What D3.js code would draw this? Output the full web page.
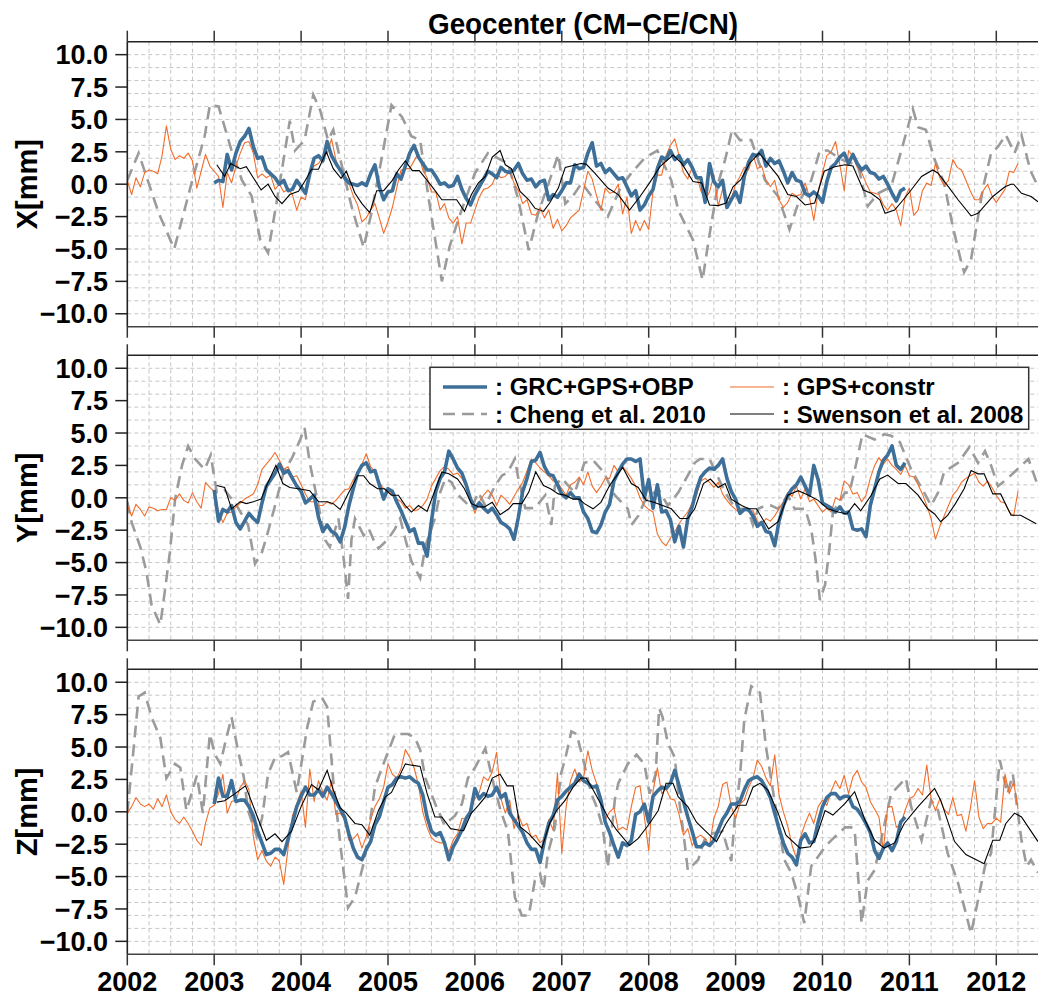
<!DOCTYPE html>
<html><head><meta charset="utf-8">
<script src="https://cdn.jsdelivr.net/npm/d3@7"></script>
<style>html,body{margin:0;padding:0;background:#fff;} svg{display:block;}</style>
</head><body><svg id="chart" width="1038" height="996"></svg>
<script>
// ---------------- DATA ----------------
const title = "Geocenter (CM\u2212CE/CN)";
const panelLabels = ["X[mm]", "Y[mm]", "Z[mm]"];
const yearTicks = [2002,2003,2004,2005,2006,2007,2008,2009,2010,2011,2012];
const valueTicks = [-10,-7.5,-5,-2.5,0,2.5,5,7.5,10];
const legendNames = [": GRC+GPS+OBP", ": GPS+constr", ": Cheng et al. 2010", ": Swenson et al. 2008"];

// GPS+constr : start 2002.00, step 0.05 yr
const gpsStart = 2002.0, gpsStep = 0.05;
const gpsX = [0.3,-0.8,0.5,-0.2,0.9,1.1,1.0,0.8,2.2,4.5,2.7,1.9,2.2,2.0,2.4,1.8,-0.3,1.0,2.3,1.4,
1.0,0.6,-1.8,0.9,0.1,1.4,2.4,3.2,3.3,2.4,0.5,0.8,0.5,0.7,-0.4,0.0,-0.6,-0.4,-0.8,-2.0,
-1.0,-1.2,0.8,1.4,1.6,2.1,2.4,3.5,1.9,1.0,0.8,0.1,-0.9,-1.6,-2.9,-2.6,-2.0,-1.5,-2.6,-3.8,
-2.9,-1.8,-0.3,1.1,1.2,1.2,1.8,2.4,1.1,0.5,-0.6,-0.6,-2.0,-1.5,-2.6,-3.0,-2.5,-4.6,-3.0,-3.0,
-2.0,-1.0,-0.4,-0.3,0.0,0.8,0.5,0.6,1.0,0.1,-0.5,-1.5,-1.2,-2.3,-2.4,-1.8,-2.6,-2.0,-3.4,-2.7,
-3.6,-3.2,-2.6,-2.3,-2.0,-0.5,
1.0,0.4,-0.9,-2.0,-0.3,-0.7,-0.6,0.0,-2.3,-1.0,-3.8,-2.8,-3.6,-2.8,-3.5,-0.5,0.7,0.7,2.2,3.0,
3.5,2.2,0.9,0.4,1.3,0.7,-0.5,-1.2,-0.6,0.7,-1.7,-0.4,-1.0,-1.2,0.0,0.6,1.3,1.1,2.3,1.2,
1.4,0.3,-0.2,0.3,-1.2,-1.8,-1.4,-0.7,-0.9,-0.8,0.1,-1.0,-2.8,-0.6,0.9,2.2,2.5,3.3,1.5,-0.5,
2.6,2.1,1.3,0.9,0.1,-0.6,-0.7,-0.8,-1.6,-2.0,-1.5,-2.0,-3.2,-1.0,-0.3,-2.4,-2.0,-0.5,0.1,-0.1,
1.6,0.5,-0.1,0.3,1.9,1.3,1.1,0.3,-0.5,-1.2,-1.2,-0.5,0.0,-0.9,-1.4,-0.9,-0.4,1.0,0.9,1.6];
const gpsY = [-0.6,-1.4,-0.5,-0.9,-1.4,-0.7,-0.8,-1.0,-0.9,-0.9,0.0,-0.2,0.3,-0.2,-0.4,0.4,-0.3,-0.8,1.2,0.8,
0.5,-1.1,-1.9,-1.2,-1.1,-0.7,-0.4,-0.1,0.1,0.3,1.0,2.2,2.6,3.0,3.5,2.9,2.2,2.4,1.6,1.7,
1.0,0.3,-0.3,-0.3,-0.6,-0.6,-0.3,-0.5,-0.2,0.2,0.6,0.7,1.4,2.0,2.6,3.4,2.4,2.0,1.2,0.7,
0.6,0.2,-0.1,-0.3,-0.8,-0.6,-1.0,-0.9,-0.6,-0.1,0.9,1.5,2.1,2.4,2.2,1.8,1.9,1.5,0.9,-0.1,
-1.2,-0.3,0.2,0.6,0.2,-0.6,0.2,-0.1,-0.5,0.1,0.7,1.2,2.1,3.0,2.7,2.3,2.0,1.7,1.3,1.2,
0.7,0.2,1.0,1.2,1.6,1.0,
2.0,0.9,0.4,0.9,1.5,1.5,2.5,2.0,2.4,2.0,1.5,0.9,0.0,-0.6,-0.9,-1.1,-2.8,-3.4,-3.7,-3.1,
-2.6,-2.0,-1.5,-1.1,-0.4,0.2,1.3,1.5,1.2,0.8,1.2,0.3,-0.2,-0.6,-0.9,-1.2,-0.8,-1.1,-1.0,-1.8,
-2.1,-1.6,-1.8,-1.4,-0.8,-0.3,0.4,0.1,0.9,-0.1,0.7,-0.3,-0.1,-0.6,-1.1,-0.8,-1.1,0.0,-0.2,1.3,
1.0,0.3,0.4,-0.3,0.2,1.5,2.5,3.1,2.6,3.0,2.5,2.2,1.8,2.5,1.7,1.6,1.0,0.3,-0.6,-1.6,
-3.2,-2.2,-1.4,-0.6,0.2,0.6,1.2,1.5,1.7,1.9,1.2,0.9,1.3,0.8,0.2,-0.3,-0.4,-1.1,-1.4,0.5];
const gpsZ = [-0.1,0.4,1.1,0.6,0.4,0.6,0.2,1.0,0.4,1.3,0.0,-0.6,-0.9,-0.4,-0.9,-1.5,-2.2,-2.6,-0.9,0.3,
0.5,1.4,2.9,-0.1,0.8,0.9,1.9,2.4,1.7,-1.9,-3.7,-3.0,-3.8,-4.2,-3.5,-3.8,-5.6,-2.8,-0.3,0.6,
1.6,-1.2,3.3,0.8,2.4,1.5,0.9,2.4,-0.2,-0.1,-0.6,-2.2,-2.1,-1.7,-2.8,-1.9,-0.6,0.4,1.0,1.9,
3.7,2.9,2.6,3.3,4.8,4.2,3.4,2.1,0.0,-1.2,-2.0,-2.3,-2.4,-2.4,-3.1,-2.2,-1.7,-0.5,-0.6,0.3,
1.0,1.5,2.7,2.4,3.1,4.6,1.0,-0.1,0.9,-1.3,-0.2,-1.1,-0.9,-2.0,-1.8,-2.4,-2.1,-0.6,-1.4,3.0,
-3.2,0.4,2.4,3.3,2.3,2.6,
4.7,3.2,2.2,0.9,-0.6,0.0,0.3,-1.4,-1.2,-1.4,0.4,1.9,2.0,-0.4,-3.0,1.6,3.4,1.4,1.8,1.0,
0.9,-0.2,-1.8,-1.3,-2.6,-2.0,-1.8,-2.1,-2.6,-0.5,0.4,2.1,2.3,0.4,-0.5,0.6,0.9,1.9,2.6,4.0,
3.5,2.6,2.0,4.4,1.3,0.0,-1.1,-2.6,-3.6,-1.9,-0.9,-0.1,-0.9,0.4,0.9,0.5,1.6,2.4,1.8,2.8,
1.4,2.7,3.2,2.3,1.9,0.8,0.2,-0.4,-3.0,0.4,0.4,-1.2,-1.0,0.1,1.0,1.2,1.8,1.3,3.6,1.0,
0.1,1.0,0.2,-0.2,1.1,-0.3,-0.2,-1.5,0.2,2.4,-0.4,-1.3,-0.9,-0.9,-0.5,-0.8,2.9,1.4,2.3,0.2];

// GRC+GPS+OBP : start 2003.00, step 0.05 yr
const grcStart = 2003.0, grcStep = 0.05;
const grcX = [0.1,0.3,0.2,2.3,1.1,2.4,3.3,3.7,4.3,2.9,2.0,2.1,1.1,0.8,0.5,0.0,0.3,-0.5,-0.4,0.3,
-0.2,-0.7,0.8,2.0,2.2,1.8,3.3,2.2,1.6,1.1,0.5,0.1,0.0,-0.1,0.1,-0.1,0.8,1.5,-0.2,-1.2,
-0.6,-0.5,0.8,0.4,1.4,2.4,3.0,2.1,1.6,1.1,1.1,0.6,0.0,0.1,-0.2,-0.1,0.6,-0.4,-1.1,-1.6,
-0.8,-0.2,0.4,1.0,0.8,0.5,1.3,1.0,0.9,1.1,1.6,0.8,0.3,0.4,-0.2,0.2,0.3,-1.2,-0.8,-1.0,
-0.5,0.1,0.1,1.5,1.2,1.3,2.4,3.2,1.4,1.6,
0.9,1.2,0.8,0.4,0.5,-0.2,-0.9,-0.5,-2.0,-1.6,-0.9,-0.4,1.2,2.1,1.9,2.6,1.9,2.2,1.5,1.9,
1.3,0.5,0.5,-1.4,1.6,0.2,-0.2,0.3,-1.8,-1.2,-0.6,-1.4,0.6,1.7,2.3,2.2,2.6,1.4,2.0,1.6,
1.8,1.0,0.1,0.9,0.3,0.2,-0.7,-0.9,-0.6,-0.9,-1.4,0.2,1.3,1.6,2.1,2.4,1.6,2.3,1.6,1.1,
1.4,0.9,0.8,0.4,0.6,0.0,-0.7,-1.3,-0.5,-0.3];
const grcY = [0.6,-1.8,-0.9,-1.1,-0.6,-1.9,-2.4,-1.8,-1.2,-1.6,-1.9,-0.4,0.9,1.4,1.9,2.6,1.9,2.1,1.5,0.9,
0.5,-0.4,-0.1,0.2,-1.5,-2.6,-2.1,-2.6,-2.8,-3.4,-2.3,-0.6,0.7,1.9,2.5,2.7,2.0,2.1,1.0,-0.1,
0.7,0.5,-0.3,-1.0,-1.8,-2.6,-2.4,-3.5,-3.5,-4.5,-1.8,0.5,1.5,2.0,3.6,3.0,2.3,1.9,1.0,-0.1,
-0.8,-0.4,-0.8,-1.1,-0.8,-1.3,-1.9,-2.1,-2.4,-3.2,-1.5,0.5,1.5,2.8,2.9,3.5,2.4,1.8,1.7,1.0,
0.3,0.0,0.4,0.0,0.0,-1.1,-1.6,-2.6,-2.7,-2.1,
-1.1,-0.5,1.3,2.0,2.6,3.0,3.0,2.8,3.0,0.0,1.4,-0.8,1.0,-1.1,-1.0,-1.7,-3.4,-2.2,-3.8,-1.6,
-0.7,0.6,1.6,2.0,2.3,2.2,2.5,3.0,1.5,0.5,-0.1,-1.2,-0.9,-0.9,-1.4,-2.2,-1.9,-2.6,-2.7,-3.7,
-1.8,-0.6,0.2,0.7,1.0,1.6,0.9,0.2,2.5,1.4,-0.4,-0.6,-0.8,-1.1,-0.7,-1.2,-1.1,-2.4,-2.5,-2.4,
-3.0,-0.6,0.7,2.0,2.9,3.3,4.0,2.5,2.2,2.7];
const grcZ = [0.6,2.6,1.2,1.2,2.4,0.8,0.9,0.9,0.4,-0.3,-1.5,-2.4,-3.3,-3.2,-2.9,-2.9,-3.3,-2.1,-0.9,0.4,
1.2,1.9,1.3,1.3,1.7,1.2,1.9,1.4,0.8,0.2,-0.4,-1.7,-2.8,-3.5,-3.7,-2.9,-2.3,-1.0,-0.4,0.8,
1.9,2.1,2.6,2.7,2.6,2.7,2.4,2.2,1.3,-0.4,-1.5,-1.8,-1.6,-2.4,-3.7,-2.7,-2.1,-1.4,-0.5,0.0,
1.8,1.0,1.4,1.2,1.3,1.9,1.1,1.4,-0.1,-0.6,-1.1,-1.6,-2.4,-2.9,-2.9,-3.9,-2.2,-0.9,-0.3,0.9,
1.2,1.6,1.9,2.2,2.9,2.4,2.2,1.9,2.0,0.9,
-0.8,-1.6,-2.6,-3.5,-2.4,-2.6,-2.2,-0.2,0.0,0.6,-0.8,1.2,1.6,1.9,1.8,2.2,3.2,2.0,0.8,-0.4,
-1.5,-2.7,-2.7,-2.4,-2.6,-2.2,-1.4,-0.6,-0.1,0.6,0.6,0.8,1.7,2.4,2.6,2.7,2.4,1.8,1.1,-0.1,
-1.3,-2.4,-3.2,-3.5,-4.1,-2.2,-1.7,-2.4,-2.3,-0.8,0.4,1.1,1.4,1.4,1.0,1.2,1.2,0.4,0.2,-0.3,
-0.9,-1.6,-3.0,-3.6,-2.8,-2.4,-3.0,-2.3,-0.8,-0.4];

// Cheng et al. 2010 : [decimal year, mm]
const chengX = [[2002.00,0.3],[2002.13,2.4],[2002.36,-2.2],[2002.54,-5.0],[2002.74,0.1],[2002.89,3.7],[2002.95,6.1],[2003.05,6.0],[2003.20,2.6],[2003.32,0.3],[2003.43,-0.9],[2003.53,-4.3],[2003.62,-5.3],[2003.76,0.3],[2003.87,4.9],[2003.93,2.6],[2004.04,3.4],[2004.14,6.9],[2004.22,5.7],[2004.31,3.4],[2004.37,4.2],[2004.47,1.4],[2004.58,-1.7],[2004.72,-4.9],[2004.81,-2.2],[2004.93,2.1],[2005.04,6.1],[2005.16,5.2],[2005.27,3.7],[2005.37,3.4],[2005.47,-1.2],[2005.62,-7.5],[2005.71,-4.8],[2005.81,-2.7],[2006.00,0.85],[2006.15,2.4],[2006.38,1.6],[2006.50,-1.2],[2006.62,-5.1],[2006.73,-2.2],[2006.85,0.1],[2006.96,2.3],[2007.04,-1.5],[2007.13,-0.9],[2007.23,0.1],[2007.34,-0.9],[2007.53,-2.5],[2007.68,-0.2],[2007.80,0.85],[2007.95,2.0],[2008.10,2.6],[2008.26,0.3],[2008.34,-2.0],[2008.51,-4.3],[2008.62,-7.4],[2008.69,-4.3],[2008.80,0.1],[2008.88,1.9],[2008.96,4.2],[2009.05,3.4],[2009.18,3.4],[2009.34,0.3],[2009.49,-0.95],[2009.62,-3.5],[2009.72,-1.5],[2009.87,0.3],[2009.97,2.6],[2010.06,2.6],[2010.22,1.9],[2010.41,1.4],[2010.52,-1.7],[2010.64,-0.7],[2010.79,-0.2],[2010.94,3.4],[2011.04,5.8],[2011.10,4.4],[2011.19,4.2],[2011.29,1.9],[2011.40,0.1],[2011.50,-3.3],[2011.60,-6.1],[2011.63,-6.8],[2011.71,-5.8],[2011.77,-3.3],[2011.85,-0.2],[2011.94,2.4],[2012.02,2.9],[2012.11,3.8],[2012.21,2.4],[2012.29,3.8],[2012.39,1.1],[2012.48,-0.2]];
const chengY = [[2002.00,-0.3],[2002.05,-1.9],[2002.15,-3.8],[2002.22,-5.7],[2002.28,-8.3],[2002.38,-9.8],[2002.43,-7.3],[2002.49,-4.2],[2002.55,-0.1],[2002.63,2.5],[2002.70,4.0],[2002.78,3.0],[2002.89,2.2],[2002.96,3.3],[2003.03,0.4],[2003.12,0.6],[2003.25,-0.5],[2003.39,-2.1],[2003.47,-5.1],[2003.55,-4.2],[2003.62,-2.6],[2003.70,-0.6],[2003.80,2.0],[2003.89,3.0],[2003.99,4.5],[2004.04,5.4],[2004.10,2.7],[2004.20,-0.6],[2004.28,-3.3],[2004.33,-3.8],[2004.43,-1.6],[2004.49,-4.7],[2004.54,-7.8],[2004.58,-3.2],[2004.62,-1.6],[2004.72,-2.9],[2004.78,-2.4],[2004.83,-3.2],[2004.89,-3.9],[2005.00,-3.2],[2005.08,-2.4],[2005.14,-1.6],[2005.20,-3.2],[2005.27,-4.9],[2005.37,-6.2],[2005.43,-3.7],[2005.54,-1.6],[2005.60,0.4],[2005.66,1.5],[2005.73,1.2],[2005.81,0.2],[2005.96,-0.8],[2006.04,0.4],[2006.12,-0.6],[2006.23,0.9],[2006.31,1.7],[2006.38,2.0],[2006.46,3.0],[2006.50,1.5],[2006.58,-0.8],[2006.69,-0.8],[2006.81,0.2],[2006.88,-2.1],[2006.92,0.9],[2007.00,1.5],[2007.08,0.9],[2007.15,0.4],[2007.26,2.7],[2007.36,2.9],[2007.48,2.0],[2007.61,0.2],[2007.76,-0.85],[2007.80,-2.1],[2007.88,-1.4],[2007.95,-0.3],[2008.11,0.7],[2008.22,-0.6],[2008.34,0.4],[2008.53,2.7],[2008.59,3.0],[2008.70,3.0],[2008.88,0.4],[2009.00,-0.85],[2009.14,-0.85],[2009.20,-2.1],[2009.26,-0.85],[2009.34,-0.6],[2009.41,-0.6],[2009.49,-0.85],[2009.60,0.2],[2009.68,-0.85],[2009.80,-0.85],[2009.87,-2.4],[2009.93,-5.2],[2009.97,-7.9],[2010.03,-6.7],[2010.08,-3.9],[2010.12,-1.1],[2010.26,0.4],[2010.31,0.4],[2010.39,2.7],[2010.46,4.9],[2010.60,4.5],[2010.71,4.9],[2010.79,4.8],[2010.89,4.3],[2011.02,2.2],[2011.17,0.4],[2011.25,-0.6],[2011.33,0.4],[2011.40,2.0],[2011.56,2.7],[2011.69,3.9],[2011.79,2.7],[2011.87,3.6],[2011.94,2.5],[2012.02,0.9],[2012.13,1.5],[2012.29,2.5],[2012.37,3.0],[2012.48,0.9]];
const chengZ = [[2002.00,-0.1],[2002.07,4.7],[2002.13,8.9],[2002.20,9.2],[2002.28,7.3],[2002.38,5.7],[2002.45,2.6],[2002.55,3.7],[2002.61,3.4],[2002.68,0.1],[2002.74,1.4],[2002.80,2.8],[2002.87,-0.1],[2002.95,6.0],[2003.01,4.4],[2003.07,3.7],[2003.14,5.7],[2003.20,7.3],[2003.26,5.2],[2003.34,2.7],[2003.39,0.1],[2003.49,-1.9],[2003.55,-0.5],[2003.62,2.9],[2003.70,4.2],[2003.78,4.3],[2003.85,4.6],[2003.95,1.5],[2004.07,6.5],[2004.14,8.5],[2004.24,8.8],[2004.30,8.1],[2004.37,2.4],[2004.46,-3.0],[2004.54,-7.4],[2004.62,-6.6],[2004.73,-3.7],[2004.85,1.9],[2004.93,3.4],[2005.08,6.0],[2005.23,6.0],[2005.31,5.7],[2005.37,4.8],[2005.43,2.6],[2005.55,0.5],[2005.65,-1.0],[2005.77,-0.3],[2005.85,0.6],[2005.92,2.6],[2006.00,3.4],[2006.12,4.9],[2006.22,2.0],[2006.30,0.0],[2006.38,-1.5],[2006.46,-6.6],[2006.54,-8.0],[2006.62,-8.0],[2006.69,-5.3],[2006.75,-4.8],[2006.79,-6.0],[2006.84,-3.2],[2006.92,-1.2],[2006.99,2.9],[2007.05,4.4],[2007.11,6.2],[2007.17,6.0],[2007.24,4.2],[2007.34,1.4],[2007.40,0.4],[2007.47,-1.2],[2007.53,-4.3],[2007.61,0.9],[2007.65,2.2],[2007.76,3.7],[2007.86,4.4],[2007.95,3.7],[2008.01,1.4],[2008.08,2.9],[2008.12,8.0],[2008.16,7.3],[2008.22,5.3],[2008.30,4.2],[2008.35,0.9],[2008.41,-2.2],[2008.45,-4.5],[2008.57,-3.7],[2008.64,-2.2],[2008.72,-1.7],[2008.85,-1.5],[2008.95,-3.8],[2008.99,-0.6],[2009.05,2.7],[2009.10,7.1],[2009.18,9.7],[2009.28,9.2],[2009.35,5.0],[2009.49,-0.9],[2009.56,-3.7],[2009.64,-4.7],[2009.72,-6.5],[2009.79,-8.6],[2009.87,-4.2],[2010.03,-2.7],[2010.10,-2.2],[2010.26,-1.2],[2010.33,-1.2],[2010.37,-1.4],[2010.45,-8.6],[2010.52,-5.3],[2010.60,-4.5],[2010.79,1.4],[2010.96,2.6],[2011.02,0.4],[2011.14,-2.2],[2011.25,0.9],[2011.33,0.1],[2011.44,-3.2],[2011.56,-5.5],[2011.71,-9.4],[2011.87,-4.2],[2011.94,-3.2],[2012.04,4.0],[2012.13,1.4],[2012.19,2.9],[2012.29,-2.2],[2012.35,-4.2],[2012.40,-3.7],[2012.48,-4.7]];

// Swenson et al. 2008 : [decimal year, mm]
const swensonX = [[2003.03,1.5],[2003.12,0.6],[2003.19,1.6],[2003.30,1.2],[2003.37,1.35],[2003.45,0.5],[2003.54,-0.45],[2003.62,0.0],[2003.70,-0.95],[2003.78,-1.5],[2003.87,-0.8],[2003.97,-0.55],[2004.05,0.3],[2004.12,1.15],[2004.20,1.15],[2004.29,2.5],[2004.37,1.2],[2004.46,0.45],[2004.52,1.0],[2004.62,-0.7],[2004.70,-1.5],[2004.79,-2.2],[2004.87,-0.5],[2004.95,-0.5],[2005.05,0.3],[2005.12,1.1],[2005.20,1.8],[2005.28,1.05],[2005.36,1.05],[2005.45,0.3],[2005.52,-0.3],[2005.62,-1.2],[2005.72,-1.2],[2005.79,-1.2],[2005.88,-2.1],[2005.96,-0.8],[2006.04,0.1],[2006.12,0.6],[2006.20,2.1],[2006.29,2.6],[2006.35,1.5],[2006.42,1.2],[2006.52,-0.55],[2006.62,-1.2],[2006.69,-1.85],[2006.79,-2.1],[2006.86,-1.45],[2006.96,-0.3],[2007.04,1.3],[2007.13,1.45],[2007.22,1.6],[2007.28,1.55],[2007.38,0.85],[2007.53,-0.3],[2007.65,-0.8],[2007.78,-2.0],[2007.90,-0.95],[2008.01,0.1],[2008.13,1.35],[2008.28,2.25],[2008.38,1.6],[2008.51,0.2],[2008.61,0.1],[2008.70,-1.6],[2008.80,-1.65],[2008.89,-1.45],[2008.97,-0.2],[2009.06,0.35],[2009.16,1.6],[2009.27,2.4],[2009.37,1.6],[2009.49,0.6],[2009.60,-0.8],[2009.70,-0.95],[2009.80,-1.6],[2009.91,-1.45],[2010.02,1.0],[2010.14,1.35],[2010.26,1.5],[2010.35,1.4],[2010.47,-0.45],[2010.56,-0.7],[2010.66,-1.2],[2010.72,-2.25],[2010.83,-2.0],[2010.93,-1.2],[2011.02,-0.45],[2011.14,0.6],[2011.27,1.1],[2011.33,0.85],[2011.45,-0.2],[2011.56,-1.2],[2011.71,-2.45],[2011.79,-2.25],[2011.96,-0.95],[2012.10,-0.2],[2012.17,0.0],[2012.20,0.0],[2012.29,-0.7],[2012.40,-0.95],[2012.48,-1.35]];
const swensonY = [[2003.03,0.95],[2003.12,0.8],[2003.20,-0.85],[2003.30,-0.3],[2003.37,-0.45],[2003.45,-0.3],[2003.54,-0.1],[2003.62,1.2],[2003.71,2.5],[2003.79,1.1],[2003.87,0.8],[2003.97,0.7],[2004.10,0.55],[2004.20,-0.3],[2004.30,-0.3],[2004.37,-0.45],[2004.45,-0.9],[2004.54,0.3],[2004.65,1.7],[2004.72,1.7],[2004.79,1.1],[2004.88,0.7],[2004.96,0.7],[2005.04,0.2],[2005.12,0.2],[2005.20,-0.6],[2005.27,-1.1],[2005.35,-0.6],[2005.45,-1.05],[2005.52,0.2],[2005.62,2.0],[2005.70,1.85],[2005.80,1.45],[2005.88,0.7],[2005.96,-0.45],[2006.04,-0.7],[2006.11,-0.7],[2006.20,-0.35],[2006.29,-1.3],[2006.39,-0.85],[2006.44,-0.45],[2006.54,-0.45],[2006.62,0.45],[2006.70,2.0],[2006.79,0.95],[2006.87,0.7],[2006.96,0.3],[2007.04,0.2],[2007.13,-0.1],[2007.20,-0.1],[2007.26,-0.45],[2007.36,-0.85],[2007.45,-0.35],[2007.55,0.95],[2007.70,2.35],[2007.80,1.1],[2007.88,0.8],[2007.97,-0.2],[2008.06,-0.35],[2008.16,-0.6],[2008.26,-0.85],[2008.36,-1.6],[2008.45,-1.6],[2008.53,-0.85],[2008.63,1.1],[2008.71,1.45],[2008.80,0.8],[2008.88,1.1],[2008.95,-0.1],[2009.07,-0.6],[2009.15,-0.85],[2009.24,-0.85],[2009.38,-2.4],[2009.49,-1.85],[2009.60,0.2],[2009.72,0.55],[2009.84,0.2],[2009.95,-0.2],[2010.06,-0.85],[2010.18,-1.1],[2010.28,-1.25],[2010.37,-0.45],[2010.44,-1.0],[2010.56,0.2],[2010.66,1.45],[2010.75,1.75],[2010.87,1.1],[2010.96,1.1],[2011.10,0.2],[2011.21,-0.85],[2011.29,-1.25],[2011.36,-1.85],[2011.44,-1.35],[2011.53,-0.45],[2011.63,0.7],[2011.71,2.1],[2011.79,1.85],[2011.86,1.85],[2011.96,0.3],[2012.05,0.3],[2012.17,-1.35],[2012.28,-1.35],[2012.46,-2.0]];
const swensonZ = [[2003.03,0.75],[2003.12,0.85],[2003.24,1.4],[2003.36,2.0],[2003.60,-2.2],[2003.70,-1.7],[2003.78,-2.3],[2003.89,-1.5],[2004.00,0.4],[2004.12,2.1],[2004.20,1.7],[2004.30,3.2],[2004.37,1.7],[2004.45,0.3],[2004.52,-0.1],[2004.62,-0.9],[2004.70,-1.0],[2004.79,-1.8],[2004.89,0.1],[2004.97,1.15],[2005.04,1.5],[2005.20,3.7],[2005.27,3.6],[2005.37,3.5],[2005.45,1.4],[2005.54,-0.4],[2005.62,-0.4],[2005.72,-1.3],[2005.81,-1.4],[2005.87,-1.45],[2005.96,-0.1],[2006.04,0.5],[2006.12,1.15],[2006.20,2.6],[2006.29,2.9],[2006.37,2.0],[2006.44,2.0],[2006.52,-1.15],[2006.62,-1.7],[2006.69,-2.2],[2006.77,-2.8],[2006.86,-0.9],[2006.94,0.1],[2007.04,0.9],[2007.13,1.9],[2007.22,2.6],[2007.28,2.6],[2007.36,1.7],[2007.45,0.6],[2007.53,-0.4],[2007.63,-1.4],[2007.78,-2.6],[2007.88,-2.05],[2008.01,-0.9],[2008.11,0.1],[2008.20,2.2],[2008.28,2.2],[2008.34,1.15],[2008.45,0.4],[2008.55,-0.8],[2008.64,-1.4],[2008.78,-2.3],[2008.89,-0.9],[2009.03,0.5],[2009.12,0.5],[2009.20,1.9],[2009.28,2.2],[2009.37,1.7],[2009.49,-0.1],[2009.58,-1.8],[2009.74,-2.8],[2009.86,-2.7],[2009.93,-1.9],[2010.03,0.1],[2010.12,-0.25],[2010.26,0.65],[2010.37,1.55],[2010.49,-0.65],[2010.60,-2.2],[2010.71,-2.8],[2010.83,-2.4],[2010.94,-0.9],[2011.10,0.4],[2011.29,1.8],[2011.36,0.9],[2011.52,-2.3],[2011.65,-3.3],[2011.86,-4.0],[2011.96,-2.2],[2012.04,-2.2],[2012.11,-0.9],[2012.21,-0.1],[2012.29,-0.4],[2012.48,-2.3]];

// ---------------- CHART ----------------
const COL = {grc:"#3d6f98", gps:"#f26d2b", cheng:"#9b9b9b", swenson:"#000000"};
const FONT = "'Liberation Sans', Arial, Helvetica, sans-serif";
const svg = d3.select("#chart");
const x = d3.scaleLinear().domain([2002, 2012.48]).range([127.3, 1038]);
const panelTops = [41.7, 355.3, 669.3], PH = 285;
const regular = (arr, t0, dt) => arr.map((v, i) => [t0 + i * dt, v]);
const panels = [
  {label: panelLabels[0], gps: regular(gpsX, gpsStart, gpsStep), grc: regular(grcX, grcStart, grcStep), cheng: chengX, swenson: swensonX},
  {label: panelLabels[1], gps: regular(gpsY, gpsStart, gpsStep), grc: regular(grcY, grcStart, grcStep), cheng: chengY, swenson: swensonY},
  {label: panelLabels[2], gps: regular(gpsZ, gpsStart, gpsStep), grc: regular(grcZ, grcStart, grcStep), cheng: chengZ, swenson: swensonZ}
];
const fmt = d3.format(".1f");

panels.forEach((p, pi) => {
  const top = panelTops[pi], bot = top + PH;
  const y = d3.scaleLinear().domain([-11, 11]).range([bot, top]);
  const g = svg.append("g");
  const cid = "clip" + pi;
  svg.append("defs").append("clipPath").attr("id", cid)
    .append("rect").attr("x", x.range()[0]).attr("y", top).attr("width", x.range()[1] - x.range()[0]).attr("height", PH);

  // grid
  const grid = g.append("g").attr("stroke", "#c6c6c6").attr("stroke-width", 1).attr("stroke-dasharray", "4,3");
  d3.range(2002.25, 2012.49, 0.25).forEach(q => {
    grid.append("line").attr("x1", x(q)).attr("x2", x(q)).attr("y1", top).attr("y2", bot);
  });
  d3.range(-10, 11, 1).forEach(v => {
    grid.append("line").attr("x1", x.range()[0]).attr("x2", x.range()[1]).attr("y1", y(v)).attr("y2", y(v));
  });

  const line = d3.line().x(d => x(d[0])).y(d => y(d[1]));
  const plot = g.append("g").attr("clip-path", `url(#${cid})`).attr("fill", "none");
  plot.append("path").attr("d", line(p.cheng)).attr("stroke", COL.cheng).attr("stroke-width", 2.6).attr("stroke-dasharray", "12,7");
  plot.append("path").attr("d", line(p.gps)).attr("stroke", COL.gps).attr("stroke-width", 1.1).attr("stroke-linejoin", "round");
  plot.append("path").attr("d", line(p.grc)).attr("stroke", COL.grc).attr("stroke-width", 3.6).attr("stroke-linejoin", "round");
  plot.append("path").attr("d", line(p.swenson)).attr("stroke", COL.swenson).attr("stroke-width", 1.1);

  // spines
  g.append("line").attr("x1", x.range()[0]).attr("x2", x.range()[1]).attr("y1", top).attr("y2", top).attr("stroke", "#222").attr("stroke-width", 1.6);
  g.append("line").attr("x1", x.range()[0]).attr("x2", x.range()[1]).attr("y1", bot).attr("y2", bot).attr("stroke", "#444").attr("stroke-width", 1.6);
  g.append("line").attr("x1", x.range()[0]).attr("x2", x.range()[0]).attr("y1", top).attr("y2", bot).attr("stroke", "#222").attr("stroke-width", 1.6);

  // y axis ticks + labels
  valueTicks.forEach(v => {
    g.append("line").attr("x1", x.range()[0] - 12).attr("x2", x.range()[0]).attr("y1", y(v)).attr("y2", y(v)).attr("stroke", "#222").attr("stroke-width", 1.5);
    g.append("text").attr("x", 108).attr("y", y(v)).attr("dy", "0.36em").attr("text-anchor", "end")
      .attr("font-family", FONT).attr("font-weight", "bold").attr("font-size", 27).attr("fill", "#000").text(fmt(v));
  });
  // x ticks top & bottom
  yearTicks.forEach(t => {
    g.append("line").attr("x1", x(t)).attr("x2", x(t)).attr("y1", top - 11).attr("y2", top).attr("stroke", "#333").attr("stroke-width", 1.5);
    g.append("line").attr("x1", x(t)).attr("x2", x(t)).attr("y1", bot).attr("y2", bot + 11).attr("stroke", "#333").attr("stroke-width", 1.5);
  });
  // panel label
  g.append("text").attr("transform", `translate(37,${(top + bot) / 2}) rotate(-90)`).attr("text-anchor", "middle")
    .attr("font-family", FONT).attr("font-weight", "bold").attr("font-size", 29).text(p.label);

  if (pi === 2) {
    yearTicks.forEach(t => {
      g.append("text").attr("x", x(t)).attr("y", 991).attr("text-anchor", "middle")
        .attr("font-family", FONT).attr("font-weight", "bold").attr("font-size", 27).text(t);
    });
  }
});

// title
svg.append("text").attr("x", 583).attr("y", 34).attr("text-anchor", "middle")
  .attr("font-family", FONT).attr("font-weight", "bold").attr("font-size", 30)
  .attr("textLength", 310).attr("lengthAdjust", "spacingAndGlyphs").text(title);

// legend
const lg = svg.append("g");
lg.append("rect").attr("x", 430).attr("y", 367.3).attr("width", 598.7).attr("height", 62)
  .attr("fill", "#fff").attr("stroke", "#333").attr("stroke-width", 1.5);
const legendItems = [
  {name: legendNames[0], col: COL.grc, w: 3.6, dash: null, lx: 443, ty: 395, ly: 387},
  {name: legendNames[1], col: COL.gps, w: 1.1, dash: null, lx: 730, ty: 395, ly: 387},
  {name: legendNames[2], col: COL.cheng, w: 2.6, dash: "12,7", lx: 443, ty: 422.5, ly: 414},
  {name: legendNames[3], col: COL.swenson, w: 1.1, dash: null, lx: 730, ty: 422.5, ly: 414}
];
legendItems.forEach(it => {
  const l = lg.append("line").attr("x1", it.lx).attr("x2", it.lx + 44).attr("y1", it.ly).attr("y2", it.ly)
    .attr("stroke", it.col).attr("stroke-width", it.w);
  if (it.dash) l.attr("stroke-dasharray", it.dash);
  lg.append("text").attr("x", it.lx + 52).attr("y", it.ty).attr("font-family", FONT).attr("font-weight", "bold")
    .attr("font-size", 24).text(it.name);
});
</script></body></html>
